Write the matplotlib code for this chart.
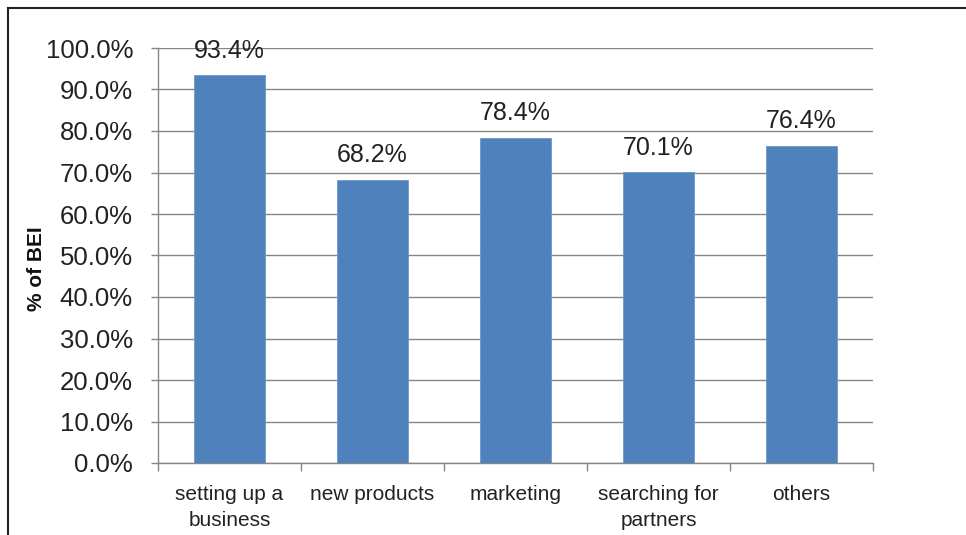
import matplotlib
matplotlib.use('Agg')
import matplotlib.pyplot as plt
from matplotlib.lines import Line2D

# -------- data -------- #
categories = ['setting up a\nbusiness', 'new products', 'marketing',
              'searching for\npartners', 'others']
share_bei = [93.4, 68.2, 78.4, 70.1, 76.4]
y_ticks = [0, 10, 20, 30, 40, 50, 60, 70, 80, 90, 100]

plt.rcParams['font.family'] = ['Liberation Sans', 'DejaVu Sans']

fig = plt.figure(figsize=(9.66, 5.35), dpi=100)
ax = fig.add_axes([158 / 966, 1 - 463 / 535, 715 / 966, 415 / 535])

x = list(range(len(categories)))
ax.bar(x, share_bei, width=0.5, color='#4F81BD', edgecolor='#6E97C8',
       linewidth=0.6, zorder=3)

for xi, v in zip(x, share_bei):
    ax.annotate('{:.1f}%'.format(v), (xi, v), xytext=(0, 9),
                textcoords='offset points', ha='center', va='bottom',
                fontsize=18, color='#222222', zorder=4)

# ---------- axes styling ---------- #
ax.set_xlim(-0.5, len(categories) - 0.5)
ax.set_ylim(0, 100)
ax.set_yticks(y_ticks)
ax.set_yticklabels(['{:.1f}%'.format(t) for t in y_ticks],
                   fontsize=18.5, color='#222222')
ax.set_xticks(x)
ax.set_xticklabels(categories, fontsize=15, color='#222222',
                   linespacing=1.45)
ax.set_xticks([i - 0.5 for i in range(len(categories) + 1)], minor=True)
ax.tick_params(axis='x', which='major', length=0, pad=16)
ax.tick_params(axis='x', which='minor', length=6, color='#868686',
               width=1)
ax.tick_params(axis='y', length=5, color='#868686', width=1, pad=13)

ax.grid(axis='y', color='#868686', linewidth=1, zorder=0)
for side in ['top', 'right']:
    ax.spines[side].set_visible(False)
for side in ['left', 'bottom']:
    ax.spines[side].set_color('#868686')
    ax.spines[side].set_linewidth(1)

# y axis title, placed a little below the axes centre
fig.text(36 / 966, 1 - 269 / 535, '% of BEI', rotation=90,
         ha='center', va='center', fontsize=15, fontweight='heavy',
         color='#111111')

# ---------- outer frame (cut at right/bottom) ---------- #
fx = 8 / 966
fy = 1 - 8 / 535
fig.add_artist(Line2D([fx, 1], [fy, fy], color='#222222', linewidth=1.5))
fig.add_artist(Line2D([fx, fx], [0, fy], color='#222222', linewidth=1.5))

fig.savefig('out.png', dpi=100, facecolor='white')
